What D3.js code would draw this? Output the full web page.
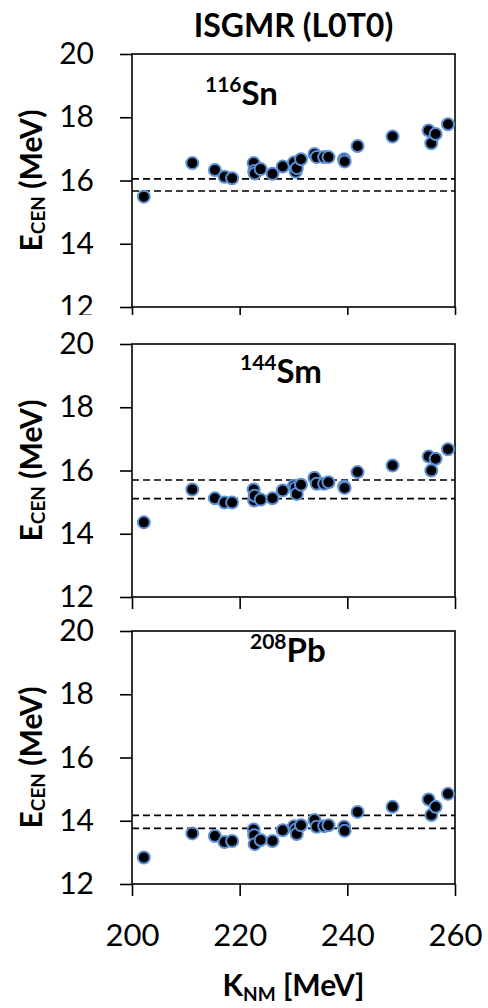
<!DOCTYPE html>
<html>
<head>
<meta charset="utf-8">
<script src="https://cdnjs.cloudflare.com/ajax/libs/d3/7.8.5/d3.min.js"></script>
<style>
  body { margin: 0; background: #fff; }
  svg text { font-family: Lato, "Open Sans", sans-serif; fill: #000; }
</style>
</head>
<body>
<svg></svg>
<script>
let width = 488;
let height = 1008;
let svg = d3.select("svg")
            .attr("width", width)
            .attr("height", height);

// K_NM of each interaction (same for all three nuclei)
let knm = [202.2, 211.2, 215.4, 217.2, 218.6, 222.6, 222.7, 222.8, 223.9, 226.1,
           228.0, 230.1, 230.4, 230.6, 231.4, 233.9, 234.3, 235.7, 236.5, 239.4,
           239.5, 241.9, 248.4, 255.1, 255.6, 256.4, 258.7];

let ecenSn = [15.49, 16.55, 16.33, 16.12, 16.07, 16.55, 16.30, 16.22, 16.36, 16.21,
              16.44, 16.57, 16.28, 16.39, 16.67, 16.84, 16.74, 16.74, 16.74, 16.67,
              16.60, 17.09, 17.39, 17.58, 17.18, 17.47, 17.78];

let ecenSm = [14.36, 15.40, 15.12, 14.99, 14.99, 15.40, 15.05, 15.20, 15.08, 15.12,
              15.37, 15.52, 15.45, 15.26, 15.55, 15.77, 15.58, 15.58, 15.63, 15.49,
              15.45, 15.95, 16.16, 16.44, 16.00, 16.37, 16.67];

let ecenPb = [12.84, 13.60, 13.52, 13.33, 13.36, 13.72, 13.54, 13.26, 13.39, 13.36,
              13.70, 13.83, 13.72, 13.58, 13.86, 14.02, 13.81, 13.83, 13.86, 13.81,
              13.68, 14.28, 14.44, 14.67, 14.18, 14.44, 14.85];

// experimental bounds (dashed lines)
let expSn = [16.05, 15.67];
let expSm = [15.70, 15.11];
let expPb = [14.17, 13.76];

let massNumbers = ["116", "144", "208"];
let elements = ["Sn", "Sm", "Pb"];
let xTicks = [200, 220, 240, 260];
let yTicks = [12, 14, 16, 18, 20];

let panels = [
  { top: 54, values: ecenSn, exp: expSn, label: 0, labelX: 205, labelY: 105 },
  { top: 344, values: ecenSm, exp: expSm, label: 1, labelX: 240, labelY: 383 },
  { top: 631, values: ecenPb, exp: expPb, label: 2, labelX: 250, labelY: 662 }
];

let left = 132;
let right = 455;
let panelH = 253;

let xScale = d3.scaleLinear()
               .domain([200, 260])
               .range([left, right]);

// title
svg.append("text")
   .attr("x", (left + right) / 2)
   .attr("y", 37)
   .attr("text-anchor", "middle")
   .attr("font-size", 32)
   .attr("font-weight", "bold")
   .text("ISGMR (L0T0)");

svg.append("defs").append("clipPath")
   .attr("id", "clipTop")
   .append("rect")
   .attr("x", 0).attr("y", 0)
   .attr("width", width).attr("height", 315);

panels.forEach((p, i) => {
  let g = svg.append("g");
  if (i === 0) g.attr("clip-path", "url(#clipTop)");

  let yScale = d3.scaleLinear()
                 .domain([12, 20])
                 .range([p.top + panelH, p.top]);

  // frame
  g.append("rect")
   .attr("x", left)
   .attr("y", p.top)
   .attr("width", right - left)
   .attr("height", panelH)
   .attr("fill", "none")
   .attr("stroke", "#000")
   .attr("stroke-width", 1.6);

  let yAxis = g.append("g")
               .attr("transform", "translate(" + left + ",0)")
               .call(d3.axisLeft(yScale).tickValues(yTicks).tickSize(12).tickPadding(26));
  yAxis.select(".domain").remove();
  yAxis.selectAll("line").attr("stroke-width", 1.6);
  yAxis.selectAll("text")
       .attr("font-size", 30)
       .attr("font-family", "Lato, sans-serif");

  let xAxis = g.append("g")
               .attr("transform", "translate(0," + (p.top + panelH) + ")")
               .call(d3.axisBottom(xScale).tickValues(xTicks).tickSize(12).tickPadding(28));
  xAxis.select(".domain").remove();
  xAxis.selectAll("line").attr("stroke-width", 1.6);
  if (i < 2) {
    xAxis.selectAll("text").remove();
  } else {
    xAxis.selectAll("text")
         .attr("font-size", 31)
         .attr("font-family", "Lato, sans-serif");
  }

  // dashed experimental lines
  g.selectAll(".exp")
   .data(p.exp)
   .enter()
   .append("line")
   .attr("x1", left)
   .attr("x2", right)
   .attr("y1", (d) => yScale(d))
   .attr("y2", (d) => yScale(d))
   .attr("stroke", "#000")
   .attr("stroke-width", 1.6)
   .attr("stroke-dasharray", "7,4");

  // points
  g.selectAll("circle")
   .data(p.values)
   .enter()
   .append("circle")
   .attr("cx", (d, j) => xScale(knm[j]))
   .attr("cy", (d) => yScale(d))
   .attr("r", 6)
   .attr("fill", "#000")
   .attr("stroke", "#5b8fd6")
   .attr("stroke-width", 2);

  // nucleus label
  let lab = g.append("text")
             .attr("x", p.labelX)
             .attr("y", p.labelY)
             .attr("font-weight", "bold")
             .attr("font-size", 33);
  lab.append("tspan")
     .attr("font-size", 21)
     .attr("dy", -13)
     .text(massNumbers[p.label]);
  lab.append("tspan")
     .attr("dy", 13)
     .text(elements[p.label]);

  // y axis title
  let yt = g.append("text")
            .attr("transform", "translate(42," + (p.top + panelH / 2) + ") rotate(-90)")
            .attr("text-anchor", "middle")
            .attr("font-weight", "bold")
            .attr("font-size", 30);
  yt.append("tspan").text("E");
  yt.append("tspan").attr("font-size", 19).attr("dy", 3).text("CEN");
  yt.append("tspan").attr("dy", -3).text(" (MeV)");
});

// x axis title
let xt = svg.append("text")
            .attr("x", (left + right) / 2)
            .attr("y", 996)
            .attr("text-anchor", "middle")
            .attr("font-weight", "bold")
            .attr("font-size", 30);
xt.append("tspan").text("K");
xt.append("tspan").attr("font-size", 19).attr("dy", 5).text("NM");
xt.append("tspan").attr("dy", -5).text(" [MeV]");
</script>
</body>
</html>
